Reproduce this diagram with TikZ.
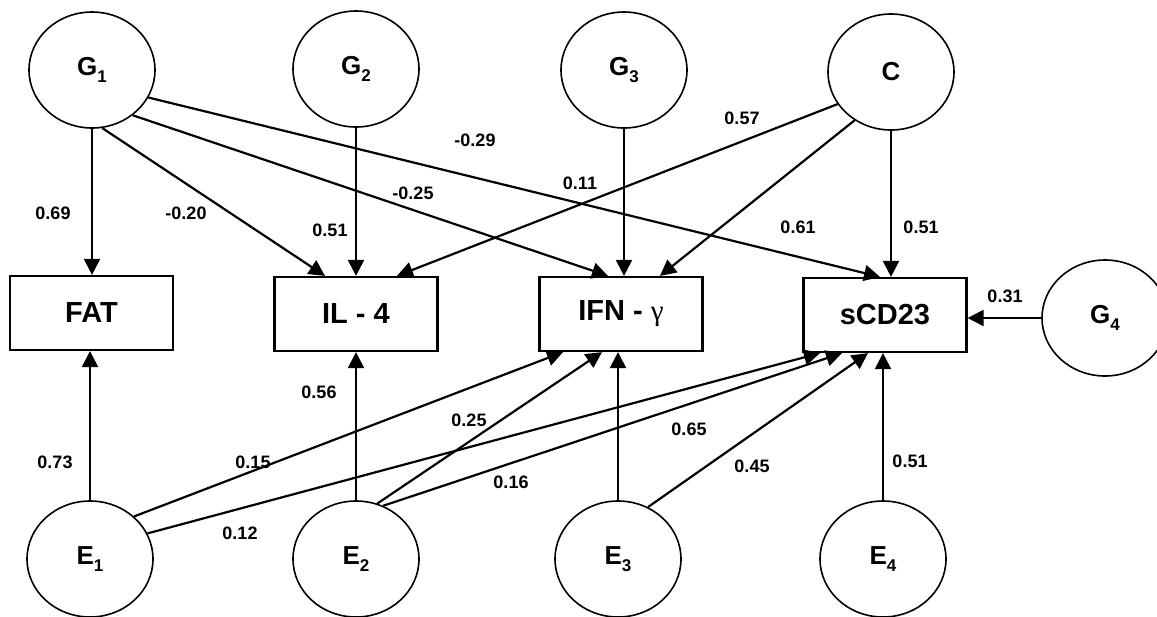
\documentclass[tikz,border=0pt]{standalone}
\usepackage{fontspec}
\setmainfont{Liberation Sans}
\newfontfamily\grk{Liberation Serif}
\usetikzlibrary{arrows.meta,shapes.geometric}
\newcommand{\sbs}[1]{\raisebox{-7pt}{\fontsize{17}{17}\selectfont #1}}
\begin{document}
\begin{tikzpicture}[x=1pt,y=-1pt,
  latent/.style={ellipse,draw,line width=1.6pt,minimum width=126pt,minimum height=116pt,inner sep=0pt,font=\fontsize{26}{26}\selectfont\bfseries},
  obs/.style={rectangle,draw,line width=2.2pt,minimum width=163pt,minimum height=74pt,inner sep=0pt,font=\fontsize{29}{29}\selectfont\bfseries},
  arr/.style={line width=2.2pt,-{Triangle[length=16pt,width=16pt]}},
  coef/.style={font=\fontsize{18}{18}\selectfont\bfseries,inner sep=0pt},
]
\useasboundingbox (0,0) rectangle (1157,616);
\fill[white] (0,0) rectangle (1157,616);
% observed
\node[obs] (FAT) at (91.5,313) {FAT};
\node[obs] (IL4) at (356,314) {IL - 4};
\node[obs] (IFN) at (621,314) {IFN - {\grk\mdseries γ}};
\node[obs] (CD) at (885,315) {sCD23};
% latent
\node[latent] (G1) at (92,70) {G\sbs{1}};
\node[latent] (G2) at (356,69) {G\sbs{2}};
\node[latent] (G3) at (624,70) {G\sbs{3}};
\node[latent] (C) at (891,72) {C};
\node[latent] (G4) at (1105,318) {G\sbs{4}};
\node[latent] (E1) at (90,559) {E\sbs{1}};
\node[latent] (E2) at (356,559) {E\sbs{2}};
\node[latent] (E3) at (618,559) {E\sbs{3}};
\node[latent] (E4) at (883,559) {E\sbs{4}};
% top paths
\draw[arr] (G1.south) -- (G1.south |- FAT.north);
\draw[arr] (G1.-80) -- ([xshift=-31pt]IL4.north);
\draw[arr] (G1.-48) -- ([xshift=-13pt]IFN.north);
\draw[arr] (G1.-26) -- ([xshift=-5pt]CD.north);
\draw[arr] (G2.south) -- (G2.south |- IL4.north);
\draw[arr] (G3.south) -- (G3.south |- IFN.north);
\draw[arr] (C.211) -- ([xshift=41pt]IL4.north);
\draw[arr] (C.233) -- ([xshift=39pt]IFN.north);
\draw[arr] (C.south) -- (C.south |- CD.north);
\draw[arr] (G4.west) -- (G4.west -| CD.east);
% bottom paths
\draw[arr] (E1.north) -- (E1.north |- FAT.south);
\draw[arr] (E1.44) -- ([xshift=-58pt]IFN.south);
\draw[arr] (E1.24) -- ([xshift=-65pt]CD.south);
\draw[arr] (E2.north) -- (E2.north |- IL4.south);
\draw[arr] (E2.69) -- ([xshift=-19pt]IFN.south);
\draw[arr] (E2.63) -- ([xshift=-43pt]CD.south);
\draw[arr] (E3.north) -- (E3.north |- IFN.south);
\draw[arr] (E3.60) -- ([xshift=-17pt]CD.south);
\draw[arr] (E4.north) -- (E4.north |- CD.south);
% coefficients
\node[coef] (c1) at (53,213) {0.69};
\node[coef] (c2) at (186,213) {-0.20};
\node[coef] (c3) at (330,230) {0.51};
\node[coef] (c4) at (413,193) {-0.25};
\node[coef] (c5) at (475,140) {-0.29};
\node[coef] (c6) at (580,183) {0.11};
\node[coef] (c7) at (742,118) {0.57};
\node[coef] (c8) at (798,227) {0.61};
\node[coef] (c9) at (921,227) {0.51};
\node[coef] (c10) at (1005,296) {0.31};
\node[coef] (c11) at (319,392) {0.56};
\node[coef] (c12) at (55,462) {0.73};
\node[coef] (c13) at (253,462) {0.15};
\node[coef] (c14) at (469,420) {0.25};
\node[coef] (c15) at (689,429) {0.65};
\node[coef] (c16) at (511,482) {0.16};
\node[coef] (c17) at (752,466) {0.45};
\node[coef] (c18) at (910,461) {0.51};
\node[coef] (c19) at (240,533) {0.12};
\end{tikzpicture}
\end{document}
